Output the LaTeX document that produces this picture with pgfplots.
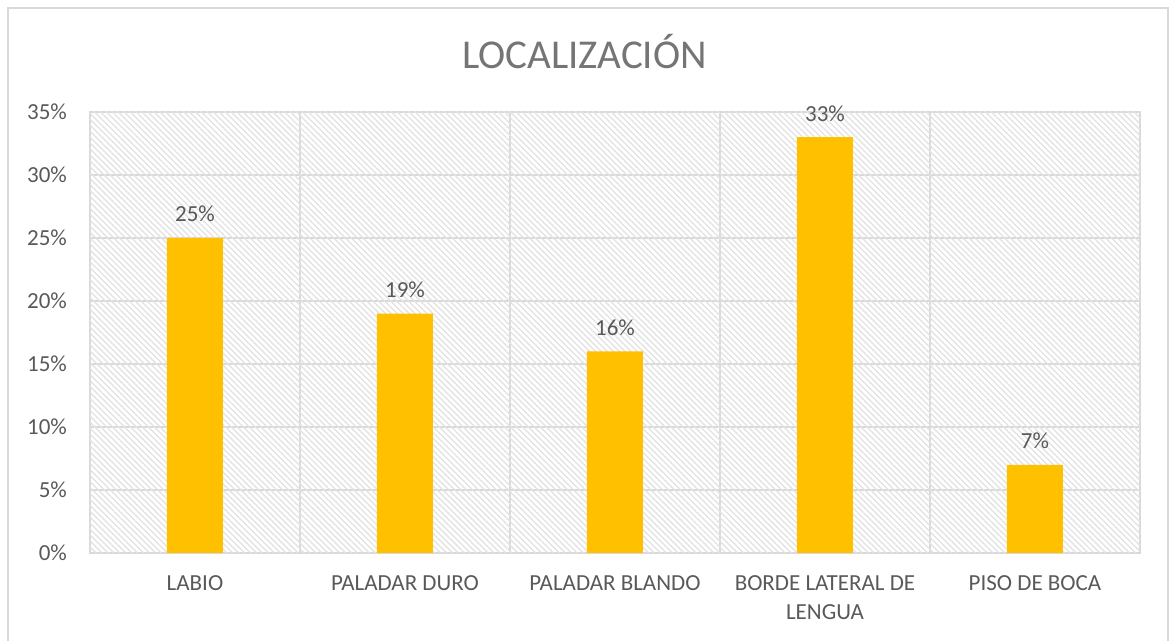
\documentclass[border=0pt]{standalone}
\usepackage{fontspec}
\setmainfont{Carlito}
\usepackage{pgfplots}
\pgfplotsset{compat=1.18}
\usetikzlibrary{patterns.meta}
\definecolor{txt}{HTML}{595959}
\definecolor{ttl}{HTML}{757575}
\definecolor{grd}{HTML}{D9D9D9}
\definecolor{hatch}{HTML}{E3E3E3}
\definecolor{bar}{HTML}{FFC000}
\begin{document}
\begin{tikzpicture}
\path[use as bounding box] (0pt,0pt) rectangle (584.5pt,320.5pt);
\draw[grd, line width=0.8pt] (4pt,-2pt) -- (4pt,316.5pt) -- (584pt,316.5pt) -- (584pt,-2pt);
\node[anchor=base, font=\fontsize{20.5}{24}\selectfont, text=ttl] at (292.25pt,286.3pt) {LOCALIZACIÓN};
\begin{axis}[
  at={(45pt,44pt)}, anchor=south west,
  scale only axis, width=525pt, height=220.5pt,
  xmin=-0.5, xmax=4.5, ymin=0, ymax=35,
  ytick={0,5,...,35},
  xtick={0,1,2,3,4},
  xticklabels={LABIO,PALADAR DURO,PALADAR BLANDO,{BORDE LATERAL DE\\LENGUA},PISO DE BOCA},
  minor xtick={-0.5,0.5,...,4.5},
  xmajorgrids=false, xminorgrids=true, ymajorgrids=true,
  grid style={grd, line width=0.8pt},
  minor grid style={grd, line width=0.8pt},
  axis line style={grd, line width=0.9pt},
  major tick length=0pt, minor tick length=0pt,
  /pgf/number format/assume math mode=true,
  yticklabel={\pgfmathprintnumber{\tick}\%},
  yticklabel style={font=\fontsize{11.5}{13}\selectfont, text=txt, anchor=east, xshift=-8pt},
  xticklabel style={font=\fontsize{11.5}{14.5}\selectfont, text=txt, align=center, anchor=north, yshift=-8pt},
  nodes near coords={\pgfmathprintnumber{\pgfplotspointmeta}\%},
  nodes near coords style={font=\fontsize{11.5}{13}\selectfont, text=txt, anchor=base, yshift=8pt},
  every node near coord/.append style={/pgf/number format/assume math mode=true},
]
\fill[pattern={Lines[angle=-45, distance=2.1pt, line width=0.7pt]}, pattern color=hatch]
  (axis cs:-0.5,0) rectangle (axis cs:4.5,35);
\addplot[ybar, bar width=28pt, fill=bar, draw=none, bar shift=0pt] coordinates {
  (0,25) (1,19) (2,16) (3,33) (4,7)
};
\end{axis}
\end{tikzpicture}
\end{document}
